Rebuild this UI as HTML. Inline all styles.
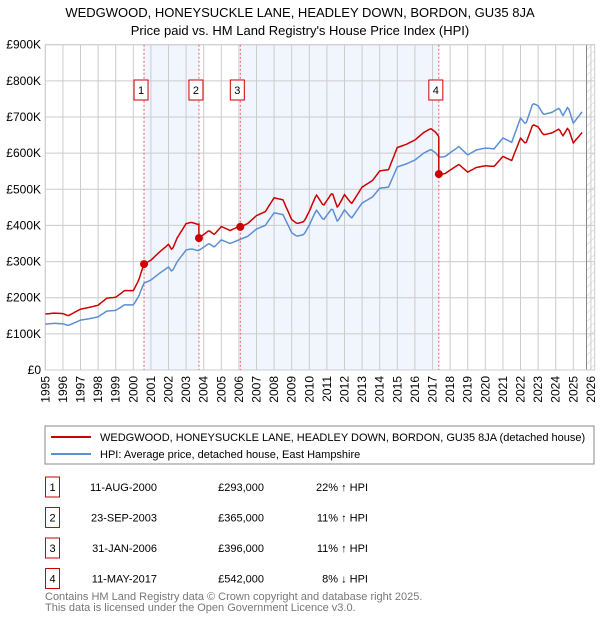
<!DOCTYPE html>
<html><head><meta charset="utf-8"><style>
body{margin:0;background:#fff;font-family:"Liberation Sans","DejaVu Sans",sans-serif}
svg text{font-family:"Liberation Sans","DejaVu Sans",sans-serif}
</style></head><body>
<svg id="c" width="600" height="620" xmlns="http://www.w3.org/2000/svg">
<defs><pattern id="hatch" width="6" height="6" patternUnits="userSpaceOnUse" patternTransform="rotate(45)"><line x1="0" y1="0" x2="0" y2="6" stroke="#ccc" stroke-width="1"/></pattern></defs>
<text x="300" y="17" text-anchor="middle" font-size="13">WEDGWOOD, HONEYSUCKLE LANE, HEADLEY DOWN, BORDON, GU35 8JA</text>
<text x="300" y="35" text-anchor="middle" font-size="13">Price paid vs. HM Land Registry's House Price Index (HPI)</text>
<g id="plot"></g>
<rect x="45" y="426" width="549" height="38" fill="#fff" stroke="#888"/>
<line x1="51" y1="437" x2="91" y2="437" stroke="#cc0000" stroke-width="2"/>
<text x="100" y="441" font-size="11">WEDGWOOD, HONEYSUCKLE LANE, HEADLEY DOWN, BORDON, GU35 8JA (detached house)</text>
<line x1="51" y1="454" x2="91" y2="454" stroke="#5b8fd4" stroke-width="2"/>
<text x="100" y="458" font-size="11">HPI: Average price, detached house, East Hampshire</text>
<g id="table" font-size="11"></g>
<text x="45" y="600" font-size="11" fill="#777">Contains HM Land Registry data © Crown copyright and database right 2025.</text>
<text x="45" y="611" font-size="11" fill="#777">This data is licensed under the Open Government Licence v3.0.</text>
</svg>
<script>
const hpiYears=[1995,1995.5,1996,1996.3,1997,1997.5,1998,1998.5,1999,1999.5,2000,2000.3,2000.6,2001,2001.5,2002,2002.2,2002.5,2003,2003.3,2003.7,2004,2004.3,2004.6,2005,2005.5,2006,2006.5,2007,2007.5,2008,2008.5,2009,2009.3,2009.7,2010,2010.4,2010.8,2011.3,2011.6,2012,2012.4,2013,2013.6,2014,2014.5,2015,2015.5,2016,2016.5,2016.9,2017.2,2017.36,2017.7,2018,2018.5,2019,2019.5,2020,2020.5,2021,2021.5,2022,2022.3,2022.7,2023,2023.3,2023.8,2024.2,2024.4,2024.7,2025,2025.5];
const hpiValues=[127,129,128,123,138,142,147,163,165,180,180,203,240,249,268,285,272,300,332,335,330,340,350,340,360,350,360,370,390,400,435,430,380,370,375,401,443,415,448,410,443,420,462,479,503,506,562,570,581,600,610,600,589,590,601,618,595,609,614,612,642,630,697,680,738,731,707,713,725,703,729,683,714];
const saleLabels=["1","2","3","4"];
const saleYears=[2000.61,2003.73,2006.08,2017.36];
const salePrices=[293,365,396,542];
const saleDates=["11-AUG-2000","23-SEP-2003","31-JAN-2006","11-MAY-2017"];
const salePriceText=["£293,000","£365,000","£396,000","£542,000"];
const saleHpiText=["22% ↑ HPI","11% ↑ HPI","11% ↑ HPI","8% ↓ HPI"];
const yTicks=[0,100,200,300,400,500,600,700,800,900];
const yTickLabels=["£0","£100K","£200K","£300K","£400K","£500K","£600K","£700K","£800K","£900K"];
const xTicks=[];for(let y=1995;y<=2026;y++)xTicks.push(y);

const NS="http://www.w3.org/2000/svg";
const L=45.3,R=594.7,T=44.7,B=370;
const X=y=>L+(y-1995)*17.6;
const Y=v=>B-v*(B-T)/900;
function mk(p,tag,at){const e=document.createElementNS(NS,tag);for(const k in at)e.setAttribute(k,at[k]);p.appendChild(e);return e;}
const g=document.getElementById('plot');
function hpiAt(t){for(let i=1;i<hpiYears.length;i++){if(t<=hpiYears[i]){const a=hpiYears[i-1],b=hpiYears[i];return hpiValues[i-1]+(hpiValues[i]-hpiValues[i-1])*(t-a)/(b-a);}}return hpiValues[hpiValues.length-1];}
for(const [a,b] of [[0,1],[2,3]]){
 const r=mk(g,'rect',{x:X(saleYears[a]),y:T,width:X(saleYears[b])-X(saleYears[a]),height:B-T,fill:'#eef2fc',opacity:0.8});
 
 
}
const hx=X(2025.75);
const hr=mk(g,'rect',{x:hx,y:T,width:R-hx,height:B-T,fill:'url(#hatch)'});


yTicks.forEach((v,i)=>{
 const l=mk(g,'line',{x1:L,x2:R,y1:Y(v),y2:Y(v),stroke:'#ccc','stroke-width':1});
 
 
 const t=mk(g,'text',{x:41,y:Y(v)+4,'text-anchor':'end','font-size':12});
 t.textContent=yTickLabels[i];
 
 
});
xTicks.forEach(yr=>{
 const l=mk(g,'line',{x1:X(yr),x2:X(yr),y1:T,y2:B,stroke:'#ccc','stroke-width':1});
 
 
 const t=mk(g,'text',{x:0,y:0,'text-anchor':'end','font-size':12,transform:`translate(${X(yr)+4},376) rotate(-90)`});
 t.textContent=yr;
 
 
});
mk(g,'line',{x1:hx,y1:T,x2:hx,y2:B,stroke:'#888','stroke-width':1});
mk(g,'rect',{x:L,y:T,width:R-L,height:B-T,fill:'none',stroke:'#ccc'});
saleYears.forEach((s,i)=>{
 const l=mk(g,'line',{x1:X(s),x2:X(s),y1:T,y2:B,stroke:'#f06060','stroke-width':1,'stroke-dasharray':'2,2'});
 
 
 const cx=X(s)-3;
 const r=mk(g,'rect',{x:cx-7,y:80,width:14,height:20,fill:'#fff',stroke:'#cc0000'});
 
 
 const t=mk(g,'text',{x:cx,y:94,'text-anchor':'middle','font-size':11});
 t.textContent=saleLabels[i];
 
 
});
let bp='',rp='';
const ts=[];for(let t=1995;t<=2025.5001;t+=1/12)ts.push(+t.toFixed(4));
saleYears.forEach(s=>ts.push(s,s+0.0001));ts.sort((a,b)=>a-b);
ts.forEach((t,i)=>{
 const h=hpiAt(t);
 let k=0;for(let j=0;j<saleYears.length;j++)if(t>=saleYears[j]+0.00005)k=j;
 const f=salePrices[k]/hpiAt(saleYears[k]);
 bp+=(i?'L':'M')+X(t).toFixed(1)+','+Y(h).toFixed(1);
 rp+=(i?'L':'M')+X(t).toFixed(1)+','+Y(h*f).toFixed(1);
});
const bl=mk(g,'path',{d:bp,fill:'none',stroke:'#5b8fd4','stroke-width':1.5});


const rl=mk(g,'path',{d:rp,fill:'none',stroke:'#cc0000','stroke-width':1.5});


saleYears.forEach((s,i)=>{
 const c=mk(g,'circle',{cx:X(s),cy:Y(salePrices[i]),r:4,fill:'#cc0000'});
 
 
});
const tb=document.getElementById('table');
saleLabels.forEach((lab,i)=>{
 const cy=487+i*30.5;
 const r=mk(tb,'rect',{x:45.5,y:cy-10,width:14,height:20,fill:'#fff',stroke:'#cc0000'});
 
 
 const cols=[[52.5,'middle',lab,'table-marker-label'],[157,'end',saleDates[i],'table-date'],[264,'end',salePriceText[i],'table-price'],[368,'end',saleHpiText[i],'table-hpi-diff']];
 cols.forEach(([x,a,s,n])=>{
  const t=mk(tb,'text',{x:x,y:cy+4,'text-anchor':a,'font-size':11});
  t.textContent=s;
  
  
 });
});
</script>
</body></html>
